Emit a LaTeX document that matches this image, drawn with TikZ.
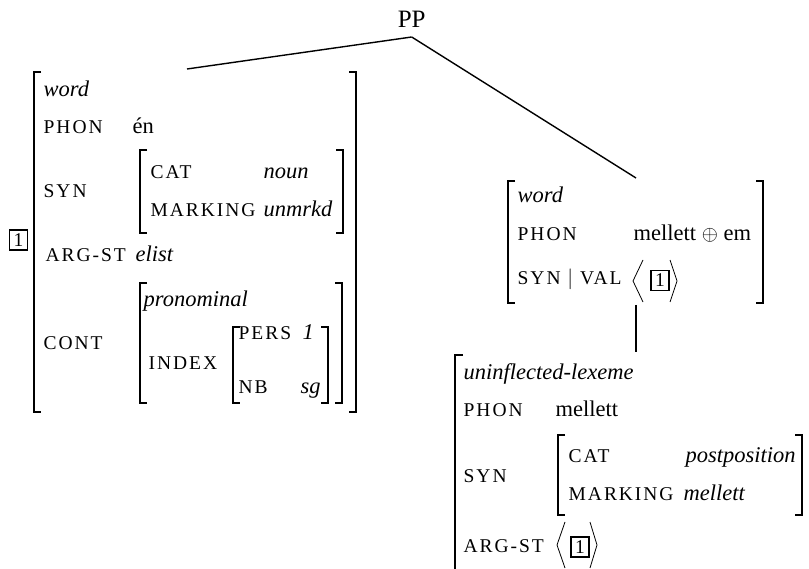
\documentclass[tikz,border=0pt]{standalone}
\usepackage{fontspec}
\setmainfont{Liberation Serif}
\newfontfamily\featfam[LetterSpace=10]{Liberation Serif}
\usepackage{tikz}

\newcommand{\bodysize}{\fontsize{22.5}{27}\selectfont}
\newcommand{\featsize}{\fontsize{19.5}{23}\selectfont}
\newcommand{\avmbrackets}[4]{%
	\draw[brk] (#1+7,#2) -- (#1,#2) -- (#1,#4) -- (#1+7,#4);
	\draw[brk] (#3-7,#2) -- (#3,#2) -- (#3,#4) -- (#3-7,#4);}

\begin{document}
\begin{tikzpicture}[x = 1pt, y = -1pt, line width = 1.4pt,
								feat/.style = {anchor = base west, inner sep = 0,
								font = \featfam\featsize},
								val/.style = {anchor = base west, inner sep = 0,
								font = \bodysize},
								typ/.style = {anchor = base west, inner sep = 0,
								font = \bodysize\itshape},
								tag/.style = {draw, line width = 1.6pt, minimum width = 18,
								minimum height = 20, inner sep = 0, font = \featsize},
								brk/.style = {line width = 1.3pt},
								ang/.style = {line width = 0.8pt}]
				\useasboundingbox (0,0) rectangle (809,569);

				\node [anchor = south, inner sep = 0, text depth = 9pt,
				font = \fontsize{25}{30}\selectfont] (pp) at (411.7,37) {PP};
				\coordinate (avmL) at (187,69);
				\coordinate (avmR) at (636,178);
				\coordinate (avmRb) at (636,305);
				\coordinate (avmB) at (636,352);

				\draw (pp.south) -- (avmL);
				\draw (pp.south) -- (avmR);
				\draw (avmRb) -- (avmB);

				\avmbrackets{34}{72}{356}{412}
				\node [tag] (tagL) at (18.5,240) {1};
				\node [typ] (wordL) at (43,97) {word};
				\node [feat] (phonL) at (43,134) {PHON};
				\node [val] (enL) at (132,134) {én};
				\node [feat] (synL) at (43,198) {SYN};
				\avmbrackets{140}{150}{343}{233}
				\node [feat] (catL) at (150,179) {CAT};
				\node [typ] (nounL) at (263,179) {noun};
				\node [feat] (markL) at (150,217) {MARKING};
				\node [typ] (unmrkdL) at (263,217) {unmrkd};
				\node [feat] (argL) at (45,262) {ARG-ST};
				\node [typ] (elistL) at (135,262) {elist};
				\node [feat] (contL) at (43,350) {CONT};
				\avmbrackets{140}{283}{342}{403}
				\node [typ] (pronL) at (143,307) {pronominal};
				\node [feat] (indexL) at (148,370) {INDEX};
				\avmbrackets{233}{327}{328}{403}
				\node [feat] (persL) at (238,340) {PERS};
				\node [typ] (oneL) at (302,340) {1};
				\node [feat] (nbL) at (238,393) {NB};
				\node [typ] (sgL) at (300,393) {sg};

				\avmbrackets{508}{181}{763}{303}
				\node [typ] (wordR) at (517,203) {word};
				\node [feat] (phonR) at (517,241) {PHON};
				\node [val] (phonvR) at (633,241) {mellett $\oplus$ em};
				\node [feat] (synvalR) at (517,285) {SYN {\bodysize$|$} VAL};
				\draw [ang] (643,260) -- (633,281) -- (643,302);
				\node [tag] (tagR) at (660,280.5) {1};
				\draw [ang] (670,260) -- (677,281) -- (670,302);

				\draw [brk] (463,355) -- (455,355) -- (455,572);
				\node [typ] (lexB) at (463,380) {uninflected-lexeme};
				\node [feat] (phonB) at (463,417) {PHON};
				\node [val] (mellettB) at (555,417) {mellett};
				\node [feat] (synB) at (463,482) {SYN};
				\avmbrackets{558}{435}{802}{515}
				\node [feat] (catB) at (568,462) {CAT};
				\node [typ] (postB) at (685,462) {postposition};
				\node [feat] (markB) at (568,500) {MARKING};
				\node [typ] (mellettmB) at (683,500) {mellett};
				\node [feat] (argB) at (463,552) {ARG-ST};
				\draw [ang] (565,522) -- (557,545) -- (565,568);
				\node [tag] (tagB) at (580,547) {1};
				\draw [ang] (590,522) -- (597,545) -- (590,568);
\end{tikzpicture}
\end{document}
